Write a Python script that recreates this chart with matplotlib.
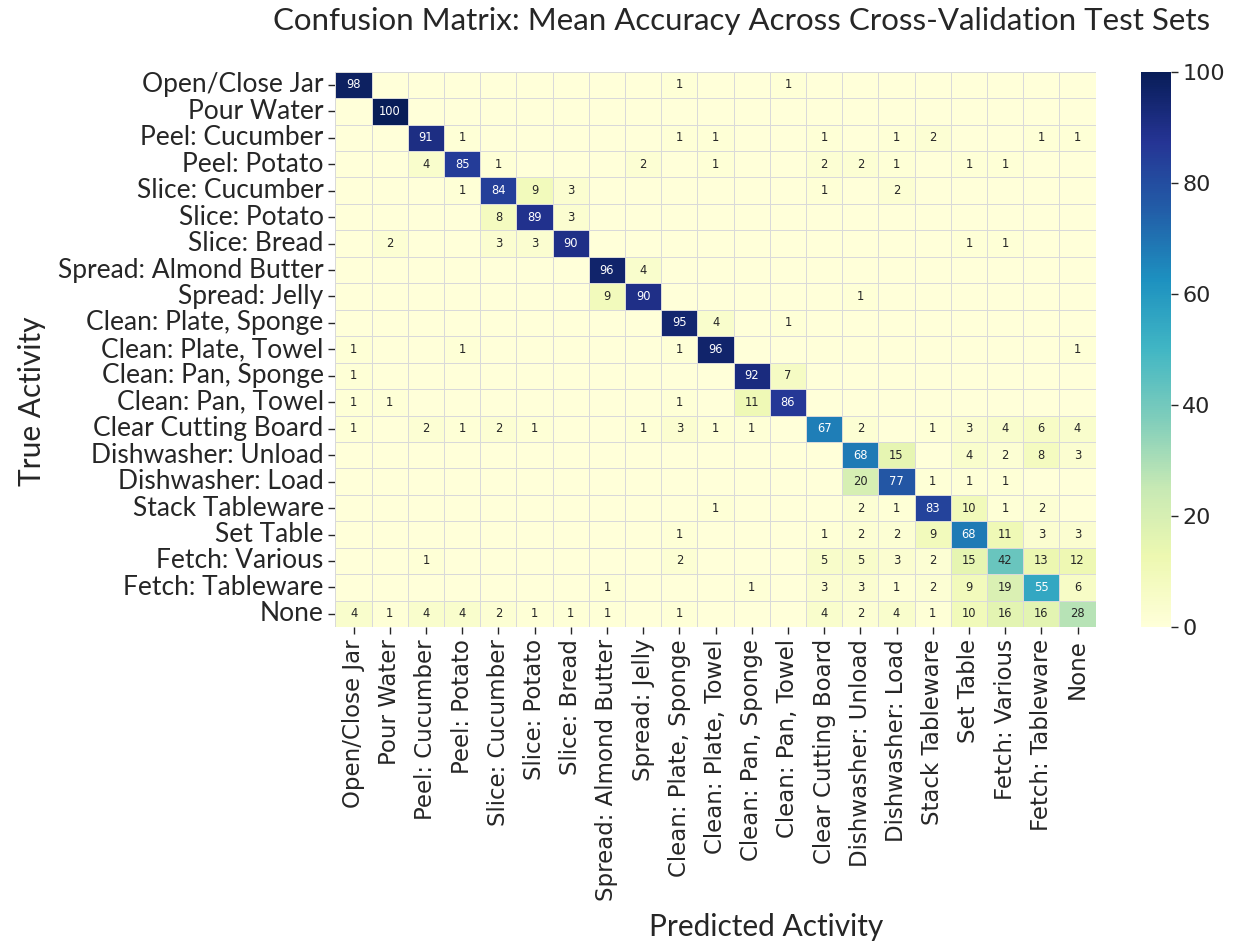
import numpy as np
import matplotlib
matplotlib.use("Agg")
import matplotlib.pyplot as plt
import seaborn as sns

activities = [
    "Open/Close Jar", "Pour Water", "Peel: Cucumber", "Peel: Potato",
    "Slice: Cucumber", "Slice: Potato", "Slice: Bread", "Spread: Almond Butter",
    "Spread: Jelly", "Clean: Plate, Sponge", "Clean: Plate, Towel",
    "Clean: Pan, Sponge", "Clean: Pan, Towel", "Clear Cutting Board",
    "Dishwasher: Unload", "Dishwasher: Load", "Stack Tableware", "Set Table",
    "Fetch: Various", "Fetch: Tableware", "None",
]

# non-zero entries per true activity row: {predicted column index: mean accuracy}
row_open_jar = {0: 98, 9: 1, 12: 1}
row_pour_water = {1: 100}
row_peel_cucumber = {2: 91, 3: 1, 9: 1, 10: 1, 13: 1, 15: 1, 16: 2, 19: 1, 20: 1}
row_peel_potato = {2: 4, 3: 85, 4: 1, 8: 2, 10: 1, 13: 2, 14: 2, 15: 1, 17: 1, 18: 1}
row_slice_cucumber = {3: 1, 4: 84, 5: 9, 6: 3, 13: 1, 15: 2}
row_slice_potato = {4: 8, 5: 89, 6: 3}
row_slice_bread = {1: 2, 4: 3, 5: 3, 6: 90, 17: 1, 18: 1}
row_spread_almond = {7: 96, 8: 4}
row_spread_jelly = {7: 9, 8: 90, 14: 1}
row_plate_sponge = {9: 95, 10: 4, 12: 1}
row_plate_towel = {0: 1, 3: 1, 9: 1, 10: 96, 20: 1}
row_pan_sponge = {0: 1, 11: 92, 12: 7}
row_pan_towel = {0: 1, 1: 1, 9: 1, 11: 11, 12: 86}
row_cutting_board = {0: 1, 2: 2, 3: 1, 4: 2, 5: 1, 8: 1, 9: 3, 10: 1, 11: 1,
                     13: 67, 14: 2, 16: 1, 17: 3, 18: 4, 19: 6, 20: 4}
row_dw_unload = {14: 68, 15: 15, 17: 4, 18: 2, 19: 8, 20: 3}
row_dw_load = {14: 20, 15: 77, 16: 1, 17: 1, 18: 1}
row_stack = {10: 1, 14: 2, 15: 1, 16: 83, 17: 10, 18: 1, 19: 2}
row_set_table = {9: 1, 13: 1, 14: 2, 15: 2, 16: 9, 17: 68, 18: 11, 19: 3, 20: 3}
row_fetch_various = {2: 1, 9: 2, 13: 5, 14: 5, 15: 3, 16: 2, 17: 15, 18: 42, 19: 13, 20: 12}
row_fetch_tableware = {7: 1, 11: 1, 13: 3, 14: 3, 15: 1, 16: 2, 17: 9, 18: 19, 19: 55, 20: 6}
row_none = {0: 4, 1: 1, 2: 4, 3: 4, 4: 2, 5: 1, 6: 1, 7: 1, 9: 1, 13: 4, 14: 2,
            15: 4, 16: 1, 17: 10, 18: 16, 19: 16, 20: 28}

rows = [row_open_jar, row_pour_water, row_peel_cucumber, row_peel_potato,
        row_slice_cucumber, row_slice_potato, row_slice_bread, row_spread_almond,
        row_spread_jelly, row_plate_sponge, row_plate_towel, row_pan_sponge,
        row_pan_towel, row_cutting_board, row_dw_unload, row_dw_load, row_stack,
        row_set_table, row_fetch_various, row_fetch_tableware, row_none]

n = len(activities)
cm = np.zeros((n, n))
for i, r in enumerate(rows):
    for j, v in r.items():
        cm[i, j] = v

# blank out zero cells in the annotations
annot = np.where(cm > 0, cm.astype(int).astype(str), "")

sns.set_style("white")
plt.rcParams["font.family"] = ["Lato", "DejaVu Sans"]

fig = plt.figure(figsize=(12.38, 9.43), dpi=100)
ax = fig.add_axes([0.271, 0.335, 0.614, 0.589])
cax = fig.add_axes([0.922, 0.335, 0.0235, 0.589])

sns.heatmap(cm, ax=ax, cbar_ax=cax, cmap="YlGnBu", vmin=0, vmax=100,
            annot=annot, fmt="", annot_kws={"fontsize": 8.3, "family": "DejaVu Sans"},
            linewidths=0.6, linecolor="#d9d9d9",
            xticklabels=activities, yticklabels=activities)

ax.tick_params(axis="both", length=5, width=1, left=True, bottom=True)
ax.set_xticklabels(activities, rotation=90, fontsize=16.5, family="DejaVu Sans")
ax.set_yticklabels(activities, rotation=0, fontsize=19)
ax.set_xlabel("")
ax.set_ylabel("")

fig.text(0.599, 0.978, "Confusion Matrix: Mean Accuracy Across Cross-Validation Test Sets",
         fontsize=22.5, ha="center", va="center")
fig.text(0.619, 0.017, "Predicted Activity", fontsize=21.5, ha="center", va="center")
fig.text(0.026, 0.574, "True Activity", fontsize=21.5, ha="center", va="center",
         rotation=90)

cax.tick_params(length=5, width=1)
cax.set_yticks([0, 20, 40, 60, 80, 100])
cax.set_yticklabels(["0", "20", "40", "60", "80", "100"], fontsize=16,
                    family="DejaVu Sans")
for s in cax.spines.values():
    s.set_visible(False)

fig.savefig("out.png", dpi=100)
